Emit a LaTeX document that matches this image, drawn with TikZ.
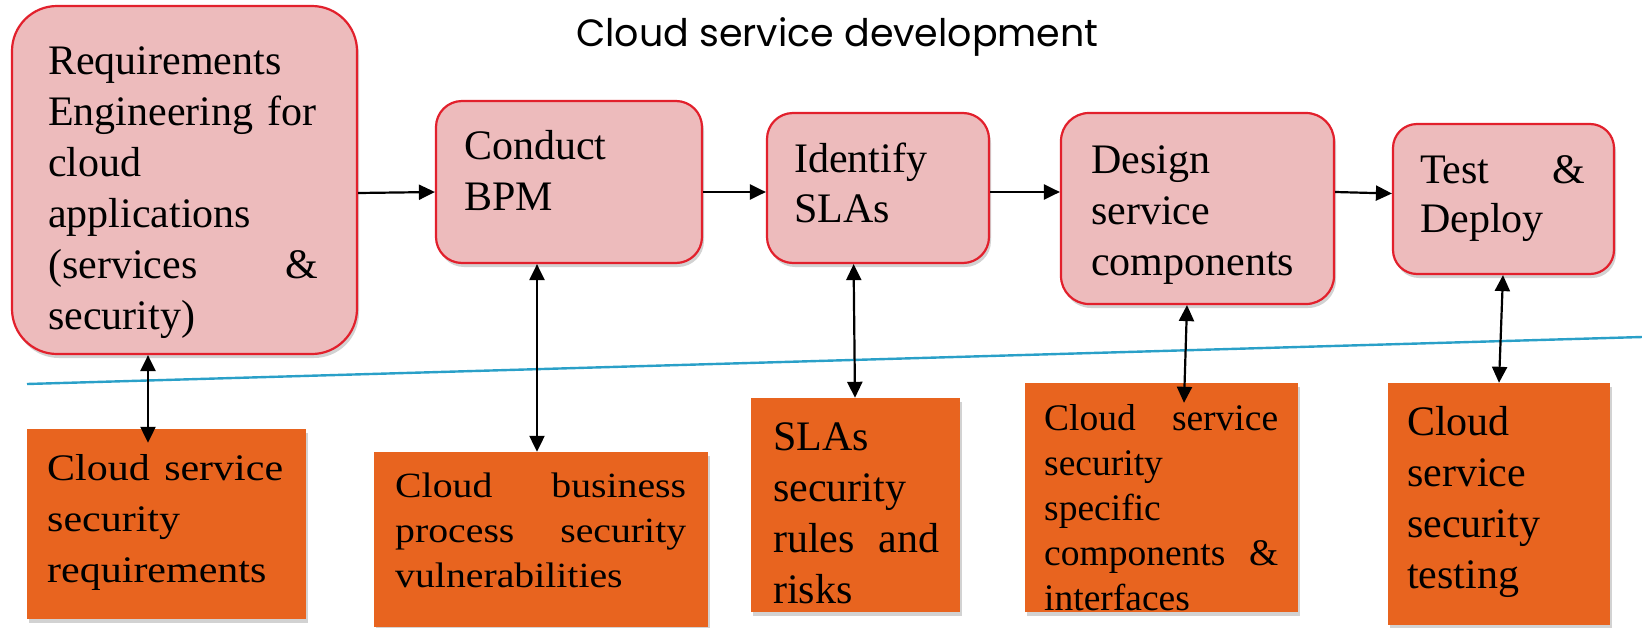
\documentclass[tikz,border=0pt]{standalone}
\usepackage{fontspec}
\setmainfont{Liberation Serif}
\newfontfamily\titlefont{Poppins}
\newfontfamily\widefont[FakeStretch=1.12]{Liberation Serif}
\usetikzlibrary{arrows.meta,shadows,calc}
\definecolor{pinkfill}{RGB}{237,187,188}
\definecolor{pinkborder}{RGB}{226,32,44}
\definecolor{orangefill}{RGB}{232,100,31}
\definecolor{blueline}{RGB}{42,160,200}
\tikzset{
  pinkbox/.style={draw=pinkborder, fill=pinkfill, line width=2.2pt, inner sep=0pt,
    drop shadow={shadow xshift=2pt, shadow yshift=-4pt, opacity=0.35}},
  orangebox/.style={fill=orangefill, draw=none, inner sep=0pt,
    drop shadow={shadow xshift=2pt, shadow yshift=-4pt, opacity=0.35}},
  boxtext/.style={anchor=base west, inner sep=0pt, align=left, text=black},
  harrow/.style={line width=2.2pt, -{Triangle[length=16pt,width=15pt]}},
  varrow/.style={line width=2.2pt, {Triangle[length=16pt,width=15pt]}-{Triangle[length=16pt,width=15pt]}},
}
\begin{document}
\begin{tikzpicture}[x=1pt,y=-1pt]
\useasboundingbox (0,0) rectangle (1642,627);
\fill[white] (0,0) rectangle (1642,627);

% title
\node[anchor=base west, inner sep=0pt, font=\titlefont\fontsize{38}{46}\selectfont] (title) at (576,46) {Cloud service development};

% separator line
\draw[blueline, line width=2.4pt] (27,384) -- (1642,337);

% pink process boxes
\node[pinkbox, minimum width=345pt, minimum height=348pt, rounded corners=45pt] (P1) at (184.5,180) {};
\node[pinkbox, minimum width=266pt, minimum height=162pt, rounded corners=26pt] (P2) at (569,182) {};
\node[pinkbox, minimum width=222pt, minimum height=150pt, rounded corners=26pt] (P3) at (878,188) {};
\node[pinkbox, minimum width=273pt, minimum height=191pt, rounded corners=28pt] (P4) at (1197.5,208.5) {};
\node[pinkbox, minimum width=221pt, minimum height=150pt, rounded corners=24pt] (P5) at (1503.5,199) {};

% orange boxes
\node[orangebox, minimum width=279pt, minimum height=190pt] (O1) at (166,524) {};
\node[orangebox, minimum width=334pt, minimum height=175pt] (O2) at (541,539.5) {};
\node[orangebox, minimum width=209pt, minimum height=214pt] (O3) at (855.5,505) {};
\node[orangebox, minimum width=273pt, minimum height=229pt] (O4) at (1161.5,497.5) {};
\node[orangebox, minimum width=222pt, minimum height=242pt] (O5) at (1499,504) {};

% texts of pink boxes
\node[boxtext, text width=270pt, font=\fontsize{42}{51}\selectfont] (T1) at (48,74)
  {Requirements\\Engineering for\\cloud\\applications\\(services\hfill\&\\security)};
\node[boxtext, text width=220pt, font=\fontsize{42}{51}\selectfont] (T2) at (464,159) {Conduct\\BPM};
\node[boxtext, text width=180pt, font=\fontsize{42}{50}\selectfont] (T3) at (794,172) {Identify\\SLAs};
\node[boxtext, text width=225pt, font=\fontsize{42}{51}\selectfont] (T4) at (1091,173) {Design\\service\\components};
\node[boxtext, text width=165pt, font=\fontsize{42}{49}\selectfont] (T5) at (1420,183) {Test\hfill\&\\Deploy};

% texts of orange boxes
\node[boxtext, text width=236pt, font=\widefont\fontsize{37.5}{51}\selectfont] (U1) at (47,480)
  {Cloud\hfill service\\security\\requirements};
\node[boxtext, text width=291pt, font=\widefont\fontsize{35.5}{45}\selectfont] (U2) at (395,497)
  {Cloud\hfill business\\process\hfill security\\vulnerabilities};
\node[boxtext, text width=166pt, font=\fontsize{42}{51}\selectfont] (U3) at (773,450)
  {SLAs\\security\\rules\hfill and\\risks};
\node[boxtext, text width=234pt, font=\fontsize{37.5}{45}\selectfont] (U4) at (1044,430)
  {Cloud\hfill service\\security\\specific\\components\hfill\&\\interfaces};
\node[boxtext, text width=200pt, font=\fontsize{42}{51}\selectfont] (U5) at (1407,435)
  {Cloud\\service\\security\\testing};

% horizontal flow arrows
\draw[harrow] ([yshift=-13pt]P1.east) -- ([yshift=-10pt]P2.west);
\draw[harrow] ([yshift=-10pt]P2.east) -- ([yshift=-4pt]P3.west);
\draw[harrow] ([yshift=-4pt]P3.east) -- ([yshift=16.5pt]P4.west);
\draw[harrow] ([yshift=16.5pt]P4.east) -- ([yshift=5.5pt]P5.west);

% vertical two-way arrows
\draw[varrow] ([xshift=-36.5pt]P1.south) -- ([xshift=-18pt,yshift=-14pt]O1.north);
\draw[varrow] ([xshift=-32pt]P2.south) -- ([xshift=-4pt]O2.north);
\draw[varrow] ([xshift=-24.4pt]P3.south) -- ([xshift=-0.5pt]O3.north);
\draw[varrow] ([xshift=-10.5pt]P4.south) -- ([xshift=22.5pt,yshift=-20pt]O4.north);
\draw[varrow] ([xshift=-0.5pt]P5.south) -- (O5.north);
\end{tikzpicture}
\end{document}
